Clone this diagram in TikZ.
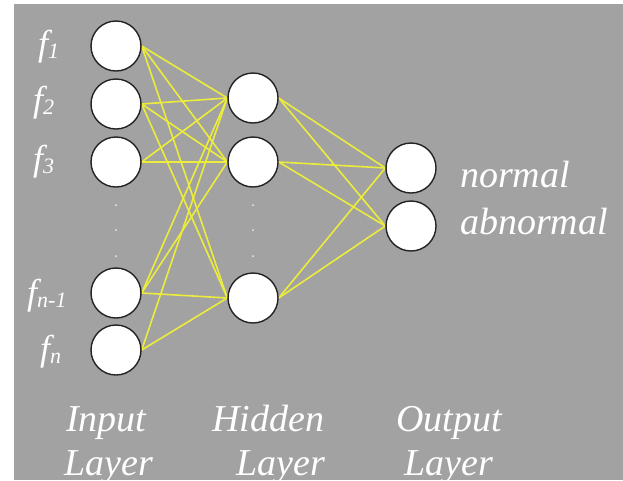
\documentclass[tikz,border=0pt]{standalone}
\usepackage{fontspec}
\setmainfont{Liberation Serif}
\newfontfamily\lblfont{Liberation Serif}
\pgfdeclarelayer{back}
\pgfdeclarelayer{mid}
\pgfsetlayers{back,mid,main}
\definecolor{bgcol}{RGB}{162,162,162}
\definecolor{wirecol}{RGB}{236,236,60}
\definecolor{rimcol}{RGB}{35,35,35}
\newcommand{\subsc}[1]{\raisebox{-3pt}{\fontsize{22}{22}\selectfont #1}}
\begin{document}
\begin{tikzpicture}[x=1pt,y=-1pt,
  neuron/.style={circle,draw=rimcol,line width=1.4pt,fill=white,minimum size=50pt,inner sep=0pt},
  wire/.style={draw=wirecol,line width=1.6pt},
  lbl/.style={text=white,font=\lblfont\itshape\fontsize{38}{38}\selectfont,inner sep=0pt,anchor=base west},
  flbl/.style={text=white,font=\lblfont\itshape\fontsize{36}{36}\selectfont,inner sep=0pt,anchor=base west},
  dotmark/.style={circle,fill=white!85!gray,inner sep=0pt,minimum size=2pt}]
\useasboundingbox (0,0) rectangle (623,480);
\begin{pgfonlayer}{back}
\fill[white] (0,0) rectangle (623,480);
\fill[bgcol] (14,4) rectangle (623,480);
\end{pgfonlayer}
% input layer
\node[neuron] (i1) at (116,46) {};
\node[neuron] (i2) at (116,104) {};
\node[neuron] (i3) at (116,162) {};
\node[neuron] (i4) at (116,293) {};
\node[neuron] (i5) at (116,350) {};
% hidden layer
\node[neuron] (h1) at (253,98) {};
\node[neuron] (h2) at (253,162) {};
\node[neuron] (h3) at (253,298) {};
% output layer
\node[neuron] (o1) at (411,168) {};
\node[neuron] (o2) at (411,226) {};
% ellipsis dots
\node[dotmark] (da1) at (116,205) {};
\node[dotmark] (da2) at (116,230) {};
\node[dotmark] (da3) at (116,256) {};
\node[dotmark] (db1) at (253,205) {};
\node[dotmark] (db2) at (253,230) {};
\node[dotmark] (db3) at (253,256) {};
% wires
\begin{pgfonlayer}{mid}
\foreach \a/\b in {i1/h1,i1/h2,i1/h3,i2/h1,i2/h2,i2/h3,i3/h1,i3/h2,i4/h1,i4/h2,i4/h3,i5/h1,i5/h3}
  \draw[wire] (\a.east) -- (\b.west);
\foreach \a/\b in {h1/o1,h1/o2,h2/o1,h2/o2,h3/o1,h3/o2}
  \draw[wire] (\a.east) -- (\b.west);
\end{pgfonlayer}
% feature labels
\node[flbl] (l1) at (38,55) {f\subsc{1}};
\node[flbl] (l2) at (33,111) {f\subsc{2}};
\node[flbl] (l3) at (33,170) {f\subsc{3}};
\node[flbl] (l4) at (27,304) {f\subsc{n-1}};
\node[flbl] (l5) at (40,360) {f\subsc{n}};
% output labels
\node[lbl] (on) at (460,187) {normal};
\node[lbl] (oa) at (460,234) {abnormal};
% layer labels
\node[lbl] (t1) at (66,431) {Input};
\node[lbl] (t2) at (64,475) {Layer};
\node[lbl] (t3) at (212,431) {Hidden};
\node[lbl] (t4) at (236,475) {Layer};
\node[lbl] (t5) at (396,431) {Output};
\node[lbl] (t6) at (404,475) {Layer};
\end{tikzpicture}
\end{document}
